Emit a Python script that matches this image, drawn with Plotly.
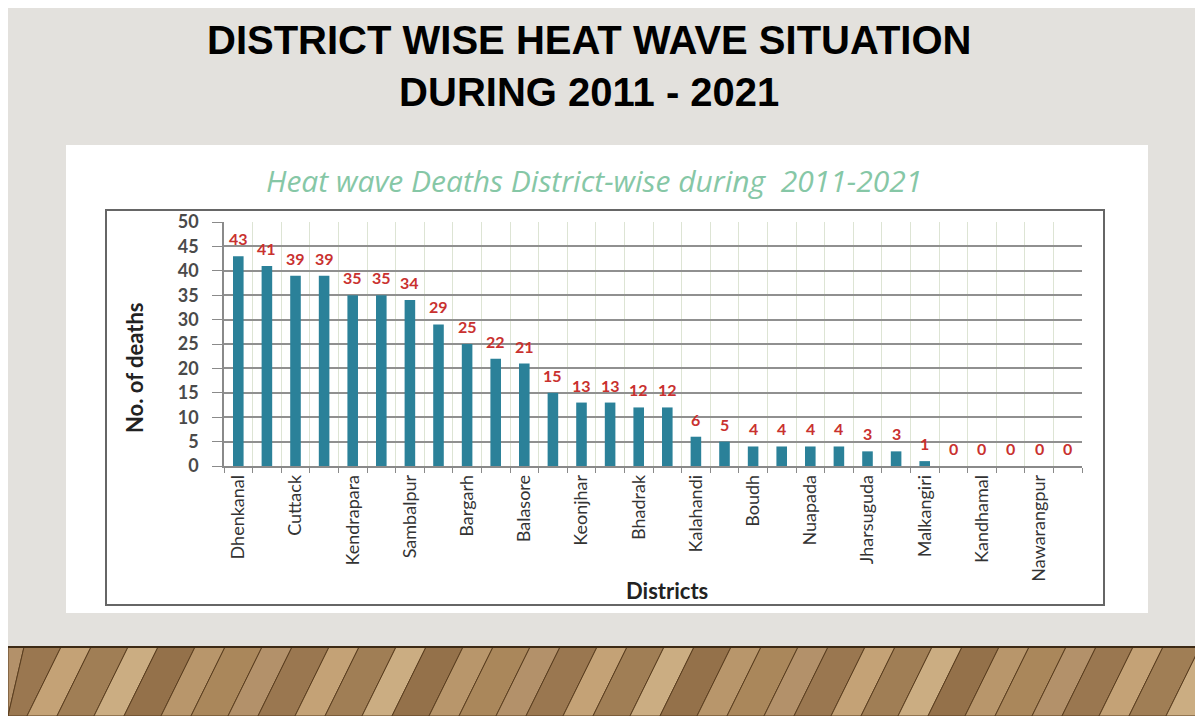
import plotly.graph_objects as go

# ---------------- data ----------------
districts = ["Dhenkanal", "Angul", "Cuttack", "Khordha", "Kendrapara", "Jajpur",
             "Sambalpur", "Balangir", "Bargarh", "Sonepur", "Balasore", "Mayurbhanj",
             "Keonjhar", "Sundargarh", "Bhadrak", "Jagatsinghpur", "Kalahandi", "Ganjam",
             "Boudh", "Deogarh", "Nuapada", "Puri", "Jharsuguda", "Nayagarh",
             "Malkangiri", "Koraput", "Kandhamal", "Rayagada", "Nawarangpur", "Gajapati"]
deaths = [43, 41, 39, 39, 35, 35, 34, 29, 25, 22, 21, 15, 13, 13, 12, 12,
          6, 5, 4, 4, 4, 4, 3, 3, 1, 0, 0, 0, 0, 0]
y_ticks = [0, 5, 10, 15, 20, 25, 30, 35, 40, 45, 50]

# page body has an 8px margin; figure is sized to fit the window
OFF = 8
W, H = 1203 - OFF, 716 - OFF
def px(x): return (x - OFF) / W
def py(y): return 1 - (y - OFF) / H

tick_text = [d if i % 2 == 0 else "" for i, d in enumerate(districts)]

fig = go.Figure()
fig.add_trace(go.Bar(
    x=districts, y=deaths, width=0.37,
    marker=dict(color="#2b8199", line=dict(width=0)),
    showlegend=False, hoverinfo="x+y",
))

shapes = []
# white chart box
shapes.append(dict(type="rect", xref="paper", yref="paper", x0=px(66), x1=px(1148), y0=py(613), y1=py(145),
                   fillcolor="#ffffff", line=dict(width=0), layer="below"))
# chart frame
shapes.append(dict(type="rect", xref="paper", yref="paper", x0=px(106), x1=px(1104), y0=py(605), y1=py(210),
                   fillcolor="rgba(0,0,0,0)", line=dict(color="#666666", width=2), layer="below"))
# wooden floor
shapes.append(dict(type="rect", xref="paper", yref="paper", x0=0, x1=1, y0=0, y1=py(647),
                   fillcolor="#a4804f", line=dict(width=0), layer="below"))
plank_cols = ["#b3916a", "#9a7750", "#c4a276", "#a07e55", "#cbad82", "#94714a", "#b8966b", "#aa875b"]
x = -40
k = 0
while x < 1203 + 40:
    w = 30 + (k * 7) % 14
    x0b, x1b = x, x + w
    x0t, x1t = x + 34, x + w + 34
    path = (f"M {px(max(x0b,OFF))},{py(716)} L {px(max(x1b,OFF))},{py(716)} "
            f"L {px(max(x1t,OFF))},{py(647)} L {px(max(x0t,OFF))},{py(647)} Z")
    shapes.append(dict(type="path", xref="paper", yref="paper", path=path,
                       fillcolor=plank_cols[k % len(plank_cols)],
                       line=dict(color="#5a3e20", width=1), layer="below"))
    x += w
    k += 1
shapes.append(dict(type="line", xref="paper", yref="paper", x0=0, x1=1, y0=py(647), y1=py(647),
                   line=dict(color="#3d2a15", width=2), layer="below"))

annotations = [
    dict(text="DISTRICT WISE HEAT WAVE SITUATION<br>DURING 2011 - 2021", xref="paper", yref="paper",
         x=px(589), y=py(66), xanchor="center", yanchor="middle", showarrow=False, align="center",
         font=dict(family="Liberation Sans, Arial, sans-serif",
                   size=40, color="#000000", weight="bold")),
    dict(text="Heat wave Deaths District-wise during  2011-2021", xref="paper", yref="paper",
         x=px(594), y=py(181), xanchor="center", yanchor="middle", showarrow=False,
         font=dict(family="Open Sans, Lato, sans-serif", size=30, color="#86c7a6", style="italic")),
    dict(text="No. of deaths", xref="paper", yref="paper", textangle=-90,
         x=px(134), y=py(368), xanchor="center", yanchor="middle", showarrow=False,
         font=dict(family="Lato, Open Sans, sans-serif", size=22, color="#222222", weight="bold")),
    dict(text="Districts", xref="paper", yref="paper",
         x=px(667), y=py(590), xanchor="center", yanchor="middle", showarrow=False,
         font=dict(family="Lato, Open Sans, sans-serif", size=22, color="#222222", weight="bold")),
]
# value labels above bars
for d, v in zip(districts, deaths):
    annotations.append(dict(x=d, y=v, xref="x", yref="y", text=str(v), showarrow=False,
                            yanchor="bottom", yshift=6,
                            font=dict(family="Lato, Open Sans, sans-serif", size=16,
                                      color="#c9312f", weight="bold")))

fig.update_layout(
    width=W, height=H, margin=dict(l=0, r=0, t=0, b=0),
    paper_bgcolor="#e3e1dd", plot_bgcolor="#eef4e4",
    shapes=shapes, annotations=annotations, bargap=0.6,
    xaxis=dict(domain=[px(224), px(1082)], range=[-0.5, 29.5], automargin=False,
               tickmode="array", tickvals=districts, ticktext=tick_text, tickangle=-90,
               tickson="boundaries", ticks="outside", ticklen=5, tickcolor="#8a8a8a",
               showgrid=True, gridcolor="#dde4d4", gridwidth=1,
               showline=True, linecolor="#8a8a8a", linewidth=1.5,
               tickfont=dict(family="Lato, Open Sans, sans-serif", size=18, color="#333333"),
               fixedrange=True),
    yaxis=dict(domain=[py(466), py(222)], range=[0, 50], automargin=False,
               tickmode="array", tickvals=y_ticks, ticks="outside", ticklen=10, tickcolor="#8a8a8a",
               showgrid=True, gridcolor="#909090", gridwidth=1.5, zeroline=False,
               showline=True, linecolor="#8a8a8a", linewidth=1.5,
               ticklabelstandoff=10,
               tickfont=dict(family="Lato, Open Sans, sans-serif", size=18, color="#4a4a4a", weight="bold"),
               fixedrange=True),
)

fig.write_html("out.html")
